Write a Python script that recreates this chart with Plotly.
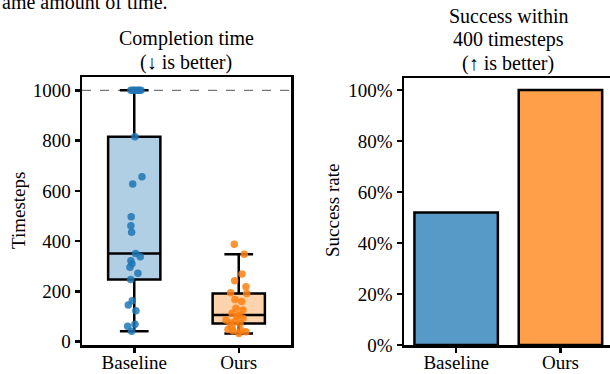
import numpy as np
import plotly.graph_objects as go

# ---------------- data ----------------
categories = ["Baseline", "Ours"]
baseline_times = [1000, 1000, 1000, 1000, 1000, 1000, 815, 656, 627, 497, 461, 435,
                  351, 338, 322, 310, 296, 272, 248, 163, 146, 123, 70, 62, 42]
baseline_jitter = [-0.032, -0.013, 0.007, 0.026, 0.045, 0.064, 0.007, 0.074, -0.015, -0.029,
                   -0.032, -0.025, 0.013, 0.057, -0.032, -0.022, -0.041, 0.035, -0.034,
                   -0.019, -0.057, 0.016, 0.007, -0.063, -0.025]
ours_times = [388, 348, 269, 243, 219, 195, 192, 168, 160, 133, 126, 113, 106, 100, 93,
              86, 80, 75, 73, 60, 49, 46, 44, 40, 33]
ours_jitter = [-0.043, 0.053, 0.031, -0.039, 0.069, -0.078, 0.076, -0.036, 0.028, -0.027,
               0.040, -0.065, 0.002, -0.017, 0.040, -0.122, -0.036, -0.084, 0.011, -0.065,
               -0.103, 0.021, -0.056, 0.069, 0.002]
success_rate = [0.52, 1.00]
max_steps = 1000
time_ticks = [0, 200, 400, 600, 800, 1000]
rate_ticks = [0, 0.2, 0.4, 0.6, 0.8, 1.0]

# ---------------- styling ----------------
W, H = 610, 374
FONT = "Liberation Serif, 'Times New Roman', Times, serif"
FS = 19
TFS = 20
point_colors = ["#1f77b4", "#ff7f0e"]
box_fills = ["#b0cfe5", "#ffd3ab"]
bar_colors = ["#5799c7", "#ff9f4a"]


def px(x):
    return x / W


def py(y):
    return 1 - y / H


def box_stats(vals):
    v = np.asarray(vals, dtype=float)
    q1, med, q3 = np.percentile(v, [25, 50, 75])
    iqr = q3 - q1
    lf = v[v >= q1 - 1.5 * iqr].min()
    uf = v[v <= q3 + 1.5 * iqr].max()
    return q1, med, q3, lf, uf


fig = go.Figure()

series = [baseline_times, ours_times]
jitters = [baseline_jitter, ours_jitter]
for i, vals in enumerate(series):
    q1, med, q3, lf, uf = box_stats(vals)
    fig.add_trace(go.Box(
        x=[i], q1=[q1], median=[med], q3=[q3], lowerfence=[lf], upperfence=[uf],
        width=0.5, whiskerwidth=0.55, fillcolor=box_fills[i],
        line=dict(color="black", width=2.5), boxpoints=False,
        xaxis="x", yaxis="y", showlegend=False, hoverinfo="skip"))
for i, (vals, jit) in enumerate(zip(series, jitters)):
    fig.add_trace(go.Scatter(
        x=[i + j for j in jit], y=vals, mode="markers",
        marker=dict(color=point_colors[i], size=7.5, opacity=0.85, line=dict(width=0)),
        xaxis="x", yaxis="y", showlegend=False, hoverinfo="skip"))

fig.add_trace(go.Bar(
    x=[0, 1], y=success_rate, width=0.8,
    marker=dict(color=bar_colors, line=dict(color="black", width=2.5)),
    xaxis="x2", yaxis="y2", showlegend=False, hoverinfo="skip"))

# dashed max-steps line
fig.add_shape(type="line", xref="x domain", yref="y", x0=0, x1=1, y0=max_steps, y1=max_steps,
              line=dict(color="#777777", width=1.3, dash="dash"), layer="below")

axis_common = dict(showgrid=False, zeroline=False, showline=True, linecolor="black",
                   linewidth=2.5, ticks="outside", ticklen=5, tickwidth=2.5, tickcolor="black",
                   tickfont=dict(family=FONT, size=FS, color="black"), automargin=False)

fig.update_layout(
    width=W, height=H, margin=dict(l=0, r=0, t=0, b=0),
    template="none", plot_bgcolor="white", paper_bgcolor="white",
    font=dict(family=FONT, size=FS, color="black"),
    xaxis=dict(domain=[px(82), px(291)], range=[-0.5, 1.5], tickvals=[0, 1],
               ticktext=categories, mirror=True, anchor="y", ticklabelstandoff=-6,
               **axis_common),
    yaxis=dict(domain=[py(345), py(77)], range=[-13, 1053], tickvals=time_ticks,
               mirror=True, anchor="x", **axis_common),
    xaxis2=dict(domain=[px(404), 1.0], range=[-0.5, 1.475], tickvals=[0, 1],
                ticktext=categories, mirror=True, anchor="y2", ticklabelstandoff=-6,
                **axis_common),
    yaxis2=dict(domain=[py(345), py(78)], range=[0, 1.047], tickvals=rate_ticks,
                tickformat=".0%", mirror=False, anchor="x2", **axis_common),
)


def label(text, x, y, angle=0, size=TFS, xanchor="center"):
    fig.add_annotation(text=text, x=px(x), y=py(y), xref="paper", yref="paper",
                       showarrow=False, xanchor=xanchor, yanchor="middle", textangle=angle,
                       font=dict(family=FONT, size=size, color="black"))


# titles
label("Completion time", 186.5, 39)
label("(\u2193 is better)", 186.5, 62)
label("Success within", 508, 16)
label("400 timesteps", 508, 39.5)
label("(\u2191 is better)", 508, 63)
# axis titles
label("Timesteps", 18, 211, angle=-90, size=FS)
label("Success rate", 332, 211, angle=-90, size=FS)
# cropped caption text at top
label("ame amount of time.", 0, 2, xanchor="left")

fig.write_html(
    "out.html",
    config={"displayModeBar": False, "staticPlot": True},
    post_script="document.body.style.margin='0';document.body.style.padding='0';"
                "document.body.style.overflow='hidden';")
